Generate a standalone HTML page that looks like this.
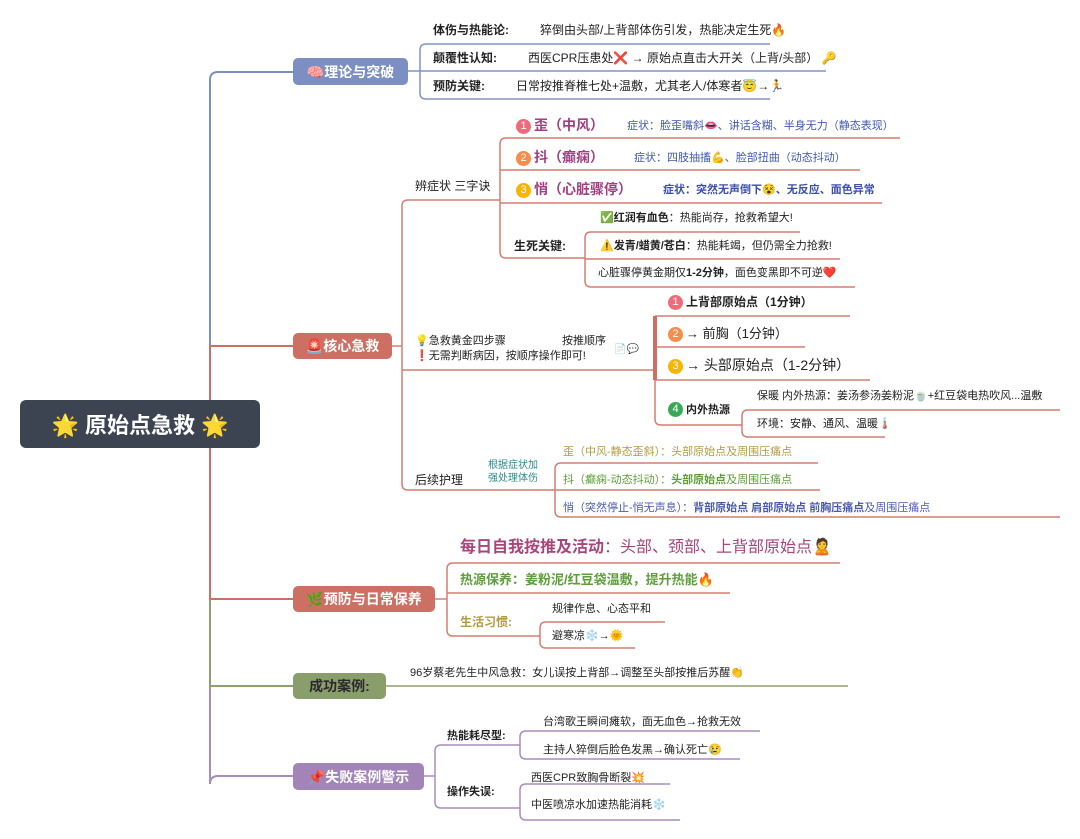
<!DOCTYPE html>
<html><head><meta charset="utf-8"><style>
body{margin:0;width:1080px;height:839px;background:#fff;position:relative;overflow:hidden;font-family:"Liberation Sans","Noto Sans CJK SC",sans-serif;font-size:12px;color:#222}
.t{position:absolute;white-space:nowrap;line-height:16px}
.b{font-weight:bold}
.box{position:absolute;color:#fff;font-weight:bold;font-size:14px;border-radius:5px;display:flex;align-items:center;justify-content:center;white-space:nowrap}
.n{display:inline-block;width:15px;height:15px;border-radius:50%;color:#fff;font-size:11px;line-height:15px;text-align:center;font-weight:normal;margin-right:3px;vertical-align:1px}
svg{position:absolute;left:0;top:0}
</style></head><body>
<svg width="1080" height="839" fill="none" stroke-width="2">
<!-- trunk -->
<path d="M210 424 V80 Q210 72 218 72 H293" stroke="#7b8fc2"/>
<path d="M210 424 V784 Q210 776 218 776 H293" stroke="#a98bbf"/>
<path d="M210 424 V686 H293" stroke="#8fa06f"/>
<path d="M210 424 V346 H293" stroke="#cd6f63"/>
<path d="M210 424 V599 H293" stroke="#cd6f63"/>
<!-- theory -->
<g stroke="#8193c6" stroke-width="1.5">
<path d="M770 44 H426 Q420 44 420 50 V93 Q420 99 426 99 H770"/>
<path d="M407 71 H826"/>
</g>
<!-- core -->
<g stroke="#d67d70" stroke-width="1.5">
<path d="M392 346 H402"/>
<path d="M500 200 H408 Q402 200 402 206 V484 Q402 490 408 490 H555"/>
<path d="M402 370 H655"/>
<path d="M900 138 H506 Q500 138 500 144 V252 Q500 258 506 258 H585"/>
<path d="M500 170 H860"/><path d="M500 203 H882"/>
<path d="M800 232 H591 Q585 232 585 238 V281 Q585 287 591 287 H855"/>
<path d="M585 259 H840"/>
<path d="M655 316 H850"/><path d="M655 347 H805"/><path d="M655 380 H870"/>
<path d="M655 380 V419 Q655 425 661 425 H742"/>
<path d="M1060 410 H748 Q742 410 742 416 V431 Q742 437 748 437 H885"/>
<path d="M818 463 H561 Q555 463 555 469 V511 Q555 517 561 517 H1060"/>
<path d="M555 490 H820"/>
<path d="M435 599 H447"/>
<path d="M840 563 H453 Q447 563 447 569 V630 Q447 636 453 636 H540"/>
<path d="M447 593 H730"/>
<path d="M665 622 H546 Q540 622 540 628 V642 Q540 648 546 648 H635"/>
</g>
<path d="M655 316 V380" stroke="#cd6f63" stroke-width="4"/>
<path d="M386 686 H848" stroke="#8fa06f" stroke-width="1.5"/>
<g stroke="#a98bbf" stroke-width="1.5">
<path d="M424 776 H435"/>
<path d="M520 745 H441 Q435 745 435 751 V802 Q435 808 441 808 H520"/>
<path d="M760 731 H526 Q520 731 520 737 V753 Q520 759 526 759 H740"/>
<path d="M670 784 H526 Q520 784 520 790 V814 Q520 820 526 820 H680"/>
</g>
</svg>

<div class="box" style="left:20px;top:400px;width:240px;height:48px;background:#3b4450;font-size:22px;border-radius:6px">🌟 原始点急救 🌟</div>
<div class="box" style="left:293px;top:58px;width:115px;height:27px;background:#7b8fc2">🧠理论与突破</div>
<div class="box" style="left:293px;top:333px;width:99px;height:26px;background:#cd6f63">🚨核心急救</div>
<div class="box" style="left:293px;top:586px;width:142px;height:26px;background:#cd6f63">🌿预防与日常保养</div>
<div class="box" style="left:293px;top:673px;width:93px;height:26px;background:#8a9e6c;color:#2a2a2a">成功案例:</div>
<div class="box" style="left:293px;top:763px;width:131px;height:27px;background:#a384b8">📌失败案例警示</div>

<div class="t b" style="left:433px;top:22px">体伤与热能论:</div>
<div class="t" style="left:540px;top:22px">猝倒由头部/上背部体伤引发，热能决定生死🔥</div>
<div class="t b" style="left:433px;top:50px">颠覆性认知:</div>
<div class="t" style="left:528px;top:50px">西医CPR压患处❌ → 原始点直击大开关（上背/头部） 🔑</div>
<div class="t b" style="left:433px;top:78px">预防关键:</div>
<div class="t" style="left:516px;top:78px">日常按推脊椎七处+温敷，尤其老人/体寒者😇→🏃</div>

<div class="t" style="left:415px;top:178px">辨症状 三字诀</div>
<div class="t b" style="left:516px;top:116px;font-size:14px;color:#a23d80;line-height:18px"><span class="n" style="background:#f06b7a">1</span>歪（中风）</div>
<div class="t" style="left:627px;top:118px;color:#4058b0;font-size:11px">症状：脸歪嘴斜👄、讲话含糊、半身无力（静态表现）</div>
<div class="t b" style="left:516px;top:148px;font-size:14px;color:#a23d80;line-height:18px"><span class="n" style="background:#f98c4a">2</span>抖（癫痫）</div>
<div class="t" style="left:634px;top:150px;color:#4058b0;font-size:11px">症状：四肢抽搐💪、脸部扭曲（动态抖动）</div>
<div class="t b" style="left:516px;top:180px;font-size:14px;color:#a23d80;line-height:18px"><span class="n" style="background:#f7b500">3</span>悄（心脏骤停）</div>
<div class="t b" style="left:663px;top:182px;color:#3b4eaa;font-size:11px">症状：突然无声倒下😵、无反应、面色异常</div>
<div class="t b" style="left:514px;top:238px">生死关键:</div>
<div class="t" style="left:600px;top:210px;font-size:11px"><b>✅红润有血色</b>：热能尚存，抢救希望大!</div>
<div class="t" style="left:600px;top:238px;font-size:11px"><b>⚠️发青/蜡黄/苍白</b>：热能耗竭，但仍需全力抢救!</div>
<div class="t" style="left:598px;top:265px;font-size:11px">心脏骤停黄金期仅<b>1-2分钟</b>，面色变黑即不可逆❤️</div>

<div class="t" style="left:415px;top:333px;font-size:11px">💡急救黄金四步骤</div>
<div class="t" style="left:415px;top:348px;font-size:11px">❗无需判断病因，按顺序操作即可!</div>
<div class="t" style="left:562px;top:333px;font-size:11px">按推顺序</div>
<div class="t" style="left:614px;top:342px;font-size:10px">📄💬</div>
<div class="t b" style="left:668px;top:294px;font-size:12px"><span class="n" style="background:#f06b7a">1</span>上背部原始点（1分钟）</div>
<div class="t" style="left:668px;top:325px;font-size:13px;line-height:18px"><span class="n" style="background:#f98c4a">2</span>→ 前胸（1分钟）</div>
<div class="t" style="left:668px;top:356px;font-size:14px;line-height:18px"><span class="n" style="background:#f7b500">3</span>→ 头部原始点（1-2分钟）</div>
<div class="t b" style="left:668px;top:402px;font-size:11px"><span class="n" style="background:#3aa956">4</span>内外热源</div>
<div class="t" style="left:757px;top:388px;font-size:11px">保暖 内外热源：姜汤参汤姜粉泥🍵+红豆袋电热吹风...温敷</div>
<div class="t" style="left:757px;top:416px;font-size:11px">环境：安静、通风、温暖🌡️</div>

<div class="t" style="left:415px;top:472px">后续护理</div>
<div class="t" style="left:488px;top:459px;font-size:10px;color:#2a8a8a;line-height:13px">根据症状加<br>强处理体伤</div>
<div class="t" style="left:563px;top:444px;font-size:11px;color:#b39a3e">歪（中风-静态歪斜）：头部原始点及周围压痛点</div>
<div class="t" style="left:563px;top:472px;font-size:11px;color:#5d9e3a">抖（癫痫-动态抖动）：<b>头部原始点</b>及周围压痛点</div>
<div class="t" style="left:563px;top:500px;font-size:11px;color:#4a5ab0">悄（突然停止-悄无声息）：<b>背部原始点 肩部原始点 前胸压痛点</b>及周围压痛点</div>

<div class="t" style="left:460px;top:538px;font-size:16px;color:#a8457a;line-height:20px"><b>每日自我按推及活动</b>：头部、颈部、上背部原始点🙎</div>
<div class="t b" style="left:460px;top:571px;font-size:13px;color:#5d9e3a;line-height:18px">热源保养：姜粉泥/红豆袋温敷，提升热能🔥</div>
<div class="t b" style="left:460px;top:614px;font-size:12px;color:#b39a3e">生活习惯:</div>
<div class="t" style="left:552px;top:601px;font-size:11px">规律作息、心态平和</div>
<div class="t" style="left:552px;top:628px;font-size:11px">避寒凉❄️→🌞</div>

<div class="t" style="left:410px;top:665px;font-size:11px">96岁蔡老先生中风急救：女儿误按上背部→调整至头部按推后苏醒👏</div>

<div class="t b" style="left:447px;top:728px;font-size:11px">热能耗尽型:</div>
<div class="t" style="left:543px;top:714px;font-size:11px">台湾歌王瞬间瘫软，面无血色→抢救无效</div>
<div class="t" style="left:543px;top:742px;font-size:11px">主持人猝倒后脸色发黑→确认死亡😢</div>
<div class="t b" style="left:447px;top:784px;font-size:11px">操作失误:</div>
<div class="t" style="left:531px;top:770px;font-size:11px">西医CPR致胸骨断裂💥</div>
<div class="t" style="left:531px;top:797px;font-size:11px">中医喷凉水加速热能消耗❄️</div>
</body></html>
